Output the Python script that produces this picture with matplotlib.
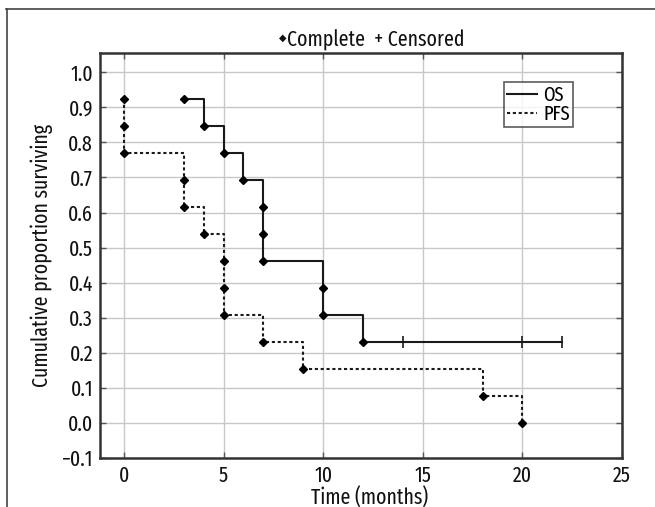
import matplotlib
matplotlib.use("Agg")
import matplotlib.pyplot as plt
from matplotlib.lines import Line2D

fam = ['Fira Sans Extra Condensed', 'Fira Sans Condensed', 'Open Sans', 'DejaVu Sans']
plt.rcParams['font.family'] = fam

# Data
os_times = [3, 4, 5, 6, 7, 7, 7, 10, 10, 12, 14, 20, 22]
os_surv = [0.923, 0.846, 0.769, 0.692, 0.615, 0.538, 0.462, 0.385, 0.308, 0.231, 0.231, 0.231, 0.231]
os_event = [1, 1, 1, 1, 1, 1, 1, 1, 1, 1, 0, 0, 0]

pfs_times = [0, 0, 0, 3, 3, 4, 5, 5, 5, 7, 9, 18, 20]
pfs_surv = [0.923, 0.846, 0.769, 0.692, 0.615, 0.538, 0.462, 0.385, 0.308, 0.231, 0.154, 0.077, 0.0]
pfs_event = [1] * 13

x_ticks = [0, 5, 10, 15, 20, 25]
y_ticks = [-0.1, 0.0, 0.1, 0.2, 0.3, 0.4, 0.5, 0.6, 0.7, 0.8, 0.9, 1.0]

FS = 15.5
fig = plt.figure(figsize=(6.55, 5.07), dpi=100)
ax = fig.add_axes([100/655, 1-458/507, 522/655, 405/507])

ax.step(os_times, os_surv, where='post', color='#1a1a1a', lw=1.5, label='OS')
ax.step(pfs_times, pfs_surv, where='post', color='#1a1a1a', lw=1.5, ls=(0, (1.5, 1.3)), label='PFS')

for times, survs, events in [(os_times, os_surv, os_event), (pfs_times, pfs_surv, pfs_event)]:
    for t, s, e in zip(times, survs, events):
        if e:
            ax.plot(t, s, marker='D', ms=4.5, color='black', ls='none')
        else:
            ax.plot(t, s, marker='|', ms=8, mew=1.2, color='#1a1a1a', ls='none')

ax.set_xlim(-1.2, 25)
ax.set_ylim(-0.1, 1.055)
ax.set_xticks(x_ticks)
ax.set_yticks(y_ticks)
ax.set_xticklabels([str(v) for v in x_ticks])
ax.set_yticklabels(['\u22120.1' if v < 0 else f'{v:.1f}' for v in y_ticks])
ax.grid(True, color='#c8c8c8', lw=1.0)
ax.set_axisbelow(True)
ax.tick_params(direction='in', top=True, right=True, length=4, width=1, color='#555555',
               labelsize=FS, pad=5, labelcolor='#111111')
for sp in ax.spines.values():
    sp.set_linewidth(1.8)
    sp.set_color('#333333')

ax.set_xlabel('Time (months)', fontsize=FS, color='#111111')
ax.set_ylabel('Cumulative proportion surviving', fontsize=FS, labelpad=6, color='#111111')
ax.xaxis.label.set_va('baseline')
ax.xaxis.set_label_coords(370/655, 1-505/507, transform=fig.transFigure)

title = fig.text(376/655, 1-40/507, 'Complete  + Censored', ha='center', va='center', fontsize=FS,
                 color='#111111')
fig.canvas.draw()
bb = title.get_window_extent()
fig.text((bb.x0 - 1) / fig.bbox.width, 1-38/507, '\u25c6', ha='right', va='center', fontsize=7,
         color='#111111', family=['DejaVu Sans'])

leg = ax.legend(loc='upper right', bbox_to_anchor=(573/655, 1-82/507), bbox_transform=fig.transFigure,
                frameon=True, fancybox=False, edgecolor='#333333', fontsize=FS - 1,
                handlelength=1.5, handletextpad=0.3, borderpad=0.15, labelspacing=0.0, borderaxespad=0)
leg.get_frame().set_linewidth(1.2)

fig.add_artist(Line2D([6/655, 1.0], [1-9/507, 1-9/507], transform=fig.transFigure, color='#444444', lw=1.2))
fig.add_artist(Line2D([7/655, 7/655], [1-9/507, 0], transform=fig.transFigure, color='#444444', lw=1.2))

fig.savefig('out.png', dpi=100)
